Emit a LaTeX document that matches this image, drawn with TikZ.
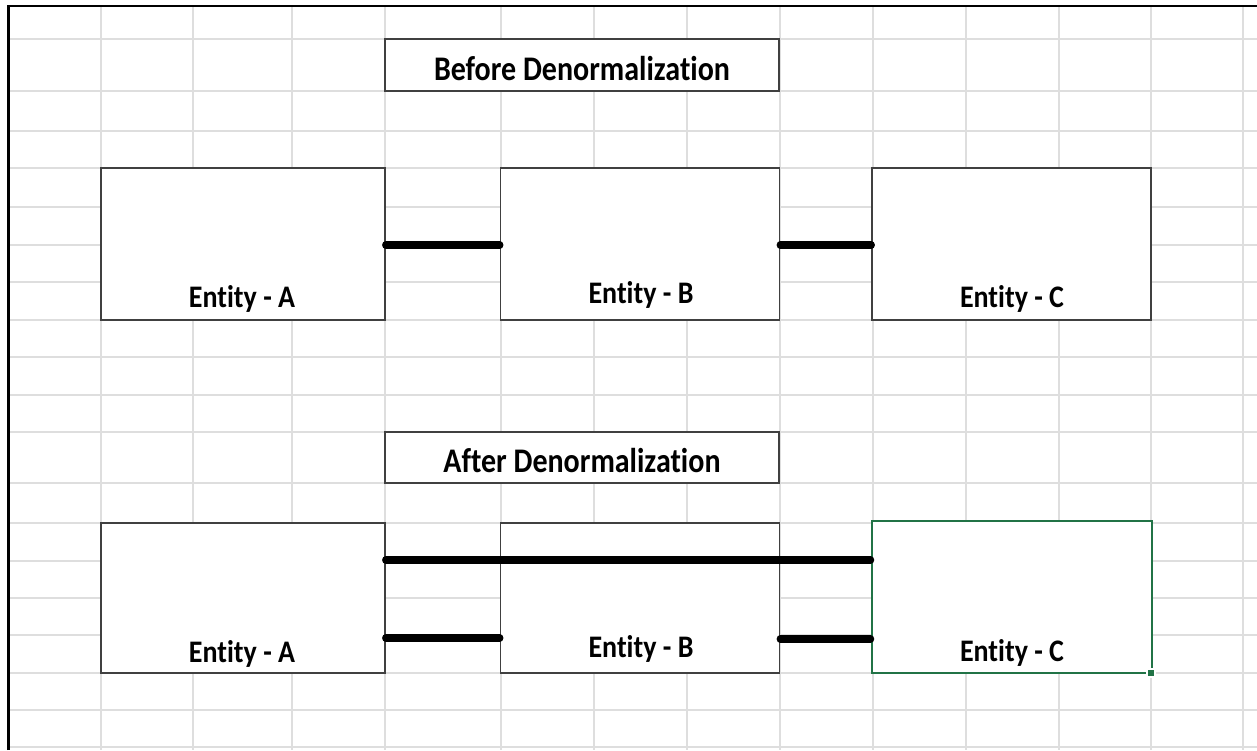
\documentclass[tikz,border=0pt]{standalone}
\usepackage{fontspec}
\setmainfont{Carlito}[Ligatures=NoCommon]
\definecolor{gridgray}{HTML}{DEDEDE}
\definecolor{boxline}{HTML}{404040}
\definecolor{selgreen}{HTML}{217346}
\tikzset{
  gridline/.style={gridgray, line width=1.6pt},
  frameline/.style={black, line width=2.2pt},
  entbox/.style={draw=boxline, fill=white, line width=1.6pt, rectangle, inner sep=0pt},
  titlebox/.style={draw=boxline, fill=white, line width=1.6pt, rectangle, inner sep=0pt},
  selbox/.style={draw=selgreen, fill=white, line width=2pt, rectangle, inner sep=0pt},
  entlabel/.style={anchor=base, inner sep=0pt, font=\fontsize{28}{32}\selectfont\bfseries, yscale=1.12},
  titlelabel/.style={anchor=base, inner sep=0pt, font=\fontsize{30}{34}\selectfont\bfseries, yscale=1.15},
  link/.style={black, line width=7.5pt, line cap=round},
}
\begin{document}
\begin{tikzpicture}[x=1pt, y=-1pt]
\useasboundingbox (0,0) rectangle (1257,750);
\fill[white] (0,0) rectangle (1257,750);
% spreadsheet cell grid
\foreach \gx in {101,193,292,385,501,594,687,780,873,966,1059,1151,1243}
  \draw[gridline] (\gx,6) -- (\gx,750);
\foreach \gy in {39,91,131,168,207,245,282,320,357,395,432,483,523,561,598,635,673,710,747}
  \draw[gridline] (8,\gy) -- (1257,\gy);
% sheet frame
\draw[frameline] (8.5,750) -- (8.5,6) -- (1257,6);

% ---- before denormalization ----
\node[titlebox, minimum width=394, minimum height=52] (t1) at (582,65) {};
\node[titlelabel] (t1lbl) at (582,80) {Before Denormalization};

\node[entbox, minimum width=284, minimum height=152] (a1) at (243,244) {};
\node[entbox, minimum width=279, minimum height=152] (b1) at (640,244) {};
\node[entbox, minimum width=279, minimum height=152] (c1) at (1011.5,244) {};
\node[entlabel] (a1lbl) at (242,307) {Entity - A};
\node[entlabel] (b1lbl) at (641,303) {Entity - B};
\node[entlabel] (c1lbl) at (1012,307) {Entity - C};

\draw[link] ([yshift=-1pt]a1.east) -- ([yshift=-1pt]b1.west);
\draw[link] ([yshift=-1pt]b1.east) -- ([yshift=-1pt]c1.west);

% ---- after denormalization ----
\node[titlebox, minimum width=394, minimum height=51] (t2) at (582,457.5) {};
\node[titlelabel] (t2lbl) at (582,472) {After Denormalization};

\node[entbox, minimum width=284, minimum height=150] (a2) at (243,598) {};
\node[entbox, minimum width=279, minimum height=150] (b2) at (640,598) {};
\node[selbox, minimum width=280, minimum height=152] (c2) at (1011.5,597) {};
\coordinate (handle) at (1151,673);
\fill[selgreen, draw=white, line width=1.5pt] ([shift={(-4,-4)}]handle) rectangle ([shift={(4,4)}]handle);
\node[entlabel] (a2lbl) at (242,662) {Entity - A};
\node[entlabel] (b2lbl) at (641,657) {Entity - B};
\node[entlabel] (c2lbl) at (1012,661) {Entity - C};

\draw[link] ([yshift=38pt]a2.east) -- ([yshift=37pt]c2.west);
\draw[link] ([yshift=-40pt]a2.east) -- ([yshift=-40pt]b2.west);
\draw[link] ([yshift=-41pt]b2.east) -- ([yshift=-42pt]c2.west);
\end{tikzpicture}
\end{document}
